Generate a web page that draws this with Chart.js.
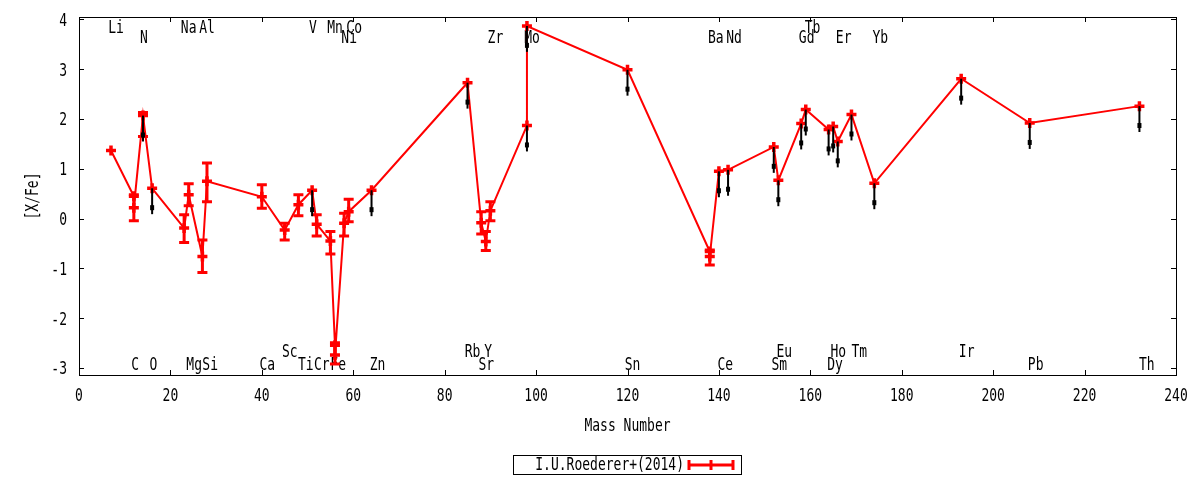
<!DOCTYPE html>
<html>
<head>
<meta charset="utf-8">
<script src="https://cdn.jsdelivr.net/npm/chart.js@4/dist/chart.umd.min.js"></script>
<style>
  body { margin: 0; background: #fff; }
  canvas { display: block; }
</style>
</head>
<body>
<canvas id="grafica" width="1200" height="480"></canvas>
<script>
// numero masico de cada punto y su [X/Fe]
const masas = [7, 12, 12, 14, 16, 23, 24, 27, 28, 40, 45, 48, 51, 52, 55, 56, 56, 58, 59, 64,
  85, 88, 89, 90, 98, 98, 120, 138, 138, 140, 142, 152, 153, 158, 159, 164, 165, 166, 169, 174,
  193, 208, 232];
const valores = [1.37, 0.45, 0.22, 2.07, 0.61, -0.19, 0.48, -0.76, 0.75, 0.44, -0.23, 0.28, 0.57, -0.11, -0.45, -2.54, -2.74, -0.09, 0.14, 0.57,
  2.73, -0.08, -0.46, 0.16, 1.87, 3.87, 2.99, -0.66, -0.76, 0.95, 0.98, 1.44, 0.77, 1.91, 2.19, 1.79, 1.85, 1.55, 2.09, 0.71,
  2.81, 1.92, 2.26];
// extremos de las barras de error (null = sin barra)
const errAbajo = [null, null, -0.04, 1.65, null, -0.48, 0.26, -1.08, 0.34, 0.21, -0.43, 0.06, null, -0.35, -0.71, null, -2.92, -0.35, -0.06, null,
  null, -0.31, -0.64, -0.04, null, null, null, null, -0.93, null, null, null, null, null, null, null, null, null, null, null,
  null, null, null];
const errArriba = [null, null, 0.48, 2.13, null, 0.08, 0.70, -0.43, 1.12, 0.68, -0.09, 0.48, null, 0.08, -0.26, null, -2.49, 0.11, 0.39, null,
  null, 0.14, -0.26, 0.34, null, null, null, null, -0.63, null, null, null, null, null, null, null, null, null, null, null,
  null, null, null];
// 1 = limite superior (flecha negra)
const limiteSup = [0, 0, 0, 1, 1, 0, 0, 0, 0, 0, 0, 0, 1, 0, 0, 0, 0, 0, 0, 1,
  1, 0, 0, 0, 1, 1, 1, 0, 0, 1, 1, 1, 1, 1, 1, 1, 1, 1, 1, 1,
  1, 1, 1];
const largoFlecha = 0.52;

// nombres de los elementos
const etiquetas = ['Li','C','N','O','Na','Mg','Al','Si','Ca','Sc','Ti','V','Cr','Mn','Fe','Ni','Co','Zn','Rb','Sr',
  'Y','Zr','Mo','Sn','Ba','Ce','Nd','Sm','Eu','Gd','Tb','Dy','Ho','Er','Tm','Yb','Ir','Pb','Th'];
const etiquetaX = [8.1, 12.3, 14.2, 16.3, 24.0, 25.2, 28.0, 28.7, 41.2, 46.1, 49.6, 51.2, 53.1, 56.0, 56.7, 59.1, 60.2, 65.3, 86.1, 89.1,
  89.5, 91.1, 99.1, 121.1, 139.3, 141.4, 143.3, 153.2, 154.3, 159.2, 160.5, 165.4, 166.1, 167.3, 170.7, 175.3, 194.2, 209.3, 233.6];
const etiquetaY = [3.85, -2.92, 3.65, -2.92, 3.85, -2.92, 3.85, -2.92, -2.92, -2.65, -2.92, 3.85, -2.92, 3.85, -2.92, 3.65, 3.85, -2.92, -2.65, -2.92,
  -2.65, 3.65, 3.65, -2.92, 3.65, -2.92, 3.65, -2.92, -2.65, 3.65, 3.85, -2.92, -2.65, 3.65, -2.65, 3.65, -2.65, -2.92, -2.92];

const tituloX = 'Mass Number';
const tituloY = '[X/Fe]';

const rojo = '#ff0000';
const fuente = '"DejaVu Sans Mono", monospace';

const puntos = masas.map((m, i) => ({ x: m, y: valores[i] }));

// texto un poco estirado en vertical, como el de gnuplot
function texto(ctx, t, x, y, align, giro) {
  ctx.save();
  ctx.translate(x, y);
  if (giro) ctx.rotate(giro);
  ctx.scale(1, 1.3);
  ctx.textAlign = align;
  ctx.textBaseline = 'middle';
  ctx.fillText(t, 0, 1.5);
  ctx.restore();
}

const marco = {
  id: 'marco',
  beforeDatasetsDraw(chart) {
    const { ctx, scales: { x, y } } = chart;
    ctx.save();
    ctx.fillStyle = '#000';
    ctx.font = '13px ' + fuente;
    etiquetas.forEach((e, i) => {
      texto(ctx, e, x.getPixelForValue(etiquetaX[i]), y.getPixelForValue(etiquetaY[i]), 'center');
    });
    ctx.restore();
  },
  afterDatasetsDraw(chart) {
    const { ctx, chartArea: a, scales: { x, y } } = chart;
    ctx.save();
    // barras de error
    ctx.strokeStyle = rojo;
    ctx.lineWidth = 3;
    masas.forEach((m, i) => {
      if (errAbajo[i] === null) return;
      const px = x.getPixelForValue(m);
      const y1 = y.getPixelForValue(errAbajo[i]);
      const y2 = y.getPixelForValue(errArriba[i]);
      ctx.beginPath();
      ctx.moveTo(px, y1); ctx.lineTo(px, y2);
      ctx.moveTo(px - 5, y1); ctx.lineTo(px + 5, y1);
      ctx.moveTo(px - 5, y2); ctx.lineTo(px + 5, y2);
      ctx.stroke();
    });
    // flechas de limite superior
    ctx.strokeStyle = '#000';
    ctx.fillStyle = '#000';
    ctx.lineWidth = 2;
    masas.forEach((m, i) => {
      if (!limiteSup[i]) return;
      const px = x.getPixelForValue(m);
      const y1 = y.getPixelForValue(valores[i]);
      const y2 = y.getPixelForValue(valores[i] - largoFlecha);
      ctx.beginPath();
      ctx.moveTo(px, y1); ctx.lineTo(px, y2);
      ctx.stroke();
      ctx.fillRect(px - 2, y2 - 9, 4, 5);
    });
    // marco y ticks hacia adentro
    ctx.strokeStyle = '#000';
    ctx.lineWidth = 1;
    ctx.strokeRect(a.left + 0.5, a.top + 0.5, a.width, a.height);
    ctx.beginPath();
    x.ticks.forEach(t => {
      const px = Math.round(x.getPixelForValue(t.value)) + 0.5;
      ctx.moveTo(px, a.bottom); ctx.lineTo(px, a.bottom - 5);
      ctx.moveTo(px, a.top); ctx.lineTo(px, a.top + 5);
    });
    y.ticks.forEach(t => {
      const py = Math.round(y.getPixelForValue(t.value)) + 0.5;
      ctx.moveTo(a.left, py); ctx.lineTo(a.left + 5, py);
      ctx.moveTo(a.right, py); ctx.lineTo(a.right - 5, py);
    });
    ctx.stroke();
    ctx.restore();
  },
  afterDraw(chart) {
    const { ctx, chartArea: a, scales: { x, y } } = chart;
    ctx.save();
    ctx.fillStyle = '#000';
    ctx.font = '13px ' + fuente;
    // numeros de los ejes y titulos
    x.ticks.forEach(t => texto(ctx, String(t.value), x.getPixelForValue(t.value), a.bottom + 20, 'center'));
    y.ticks.forEach(t => texto(ctx, String(t.value), a.left - 12, y.getPixelForValue(t.value), 'right'));
    texto(ctx, tituloX, (a.left + a.right) / 2, 425, 'center');
    texto(ctx, tituloY, 32, (a.top + a.bottom) / 2, 'center', -Math.PI / 2);
    // leyenda a mano
    ctx.strokeStyle = '#000';
    ctx.lineWidth = 1;
    ctx.strokeRect(513.5, 455.5, 228, 19);
    texto(ctx, chart.data.datasets[0].label, 684, 464, 'right');
    ctx.strokeStyle = rojo;
    ctx.lineWidth = 3;
    ctx.beginPath();
    ctx.moveTo(689, 465); ctx.lineTo(733, 465);
    ctx.moveTo(689, 460); ctx.lineTo(689, 470);
    ctx.moveTo(733, 460); ctx.lineTo(733, 470);
    ctx.moveTo(711, 460); ctx.lineTo(711, 470);
    ctx.stroke();
    ctx.restore();
  }
};

Chart.defaults.font.family = fuente;
Chart.defaults.font.size = 13;
Chart.defaults.color = '#000';

const grafica = document.querySelector('#grafica');
new Chart(grafica, {
  type: 'scatter',
  data: {
    datasets: [{
      label: 'I.U.Roederer+(2014)',
      data: puntos,
      showLine: true,
      borderColor: rojo,
      borderWidth: 2,
      pointStyle: 'cross',
      pointRadius: 5,
      pointBorderWidth: 3.5,
      pointBorderColor: rojo,
      pointBackgroundColor: rojo,
      tension: 0
    }]
  },
  options: {
    responsive: false,
    animation: false,
    devicePixelRatio: 1,
    layout: { padding: { top: 17, right: 24, left: 0, bottom: 0 } },
    plugins: { legend: { display: false }, tooltip: { enabled: false } },
    scales: {
      x: {
        type: 'linear', min: 0, max: 240,
        ticks: { stepSize: 20, includeBounds: false, color: 'rgba(0,0,0,0)' },
        grid: { display: false },
        border: { display: false },
        afterFit(s) { s.height = 105; }
      },
      y: {
        min: -3.14, max: 4.05,
        ticks: { stepSize: 1, includeBounds: false, color: 'rgba(0,0,0,0)' },
        grid: { display: false },
        border: { display: false },
        afterFit(s) { s.width = 79; }
      }
    }
  },
  plugins: [marco]
});
</script>
</body>
</html>
